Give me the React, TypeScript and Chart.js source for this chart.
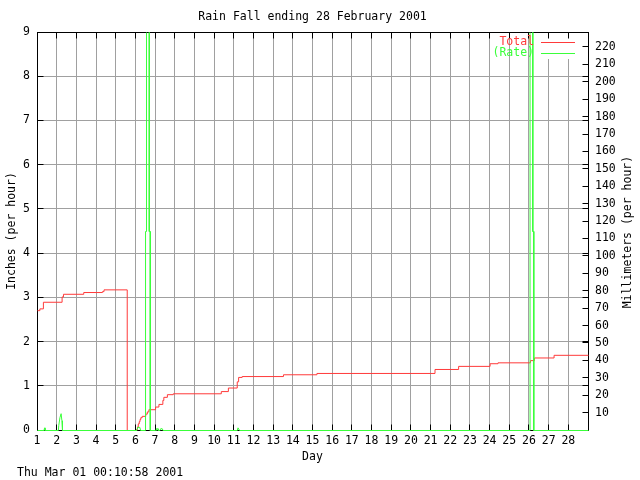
import React, { useEffect, useRef } from "react";
import { Chart, registerables } from "chart.js";

Chart.register(...registerables);

// ---- data ----
const titleText = "Rain Fall ending 28 February 2001";
const footerText = "Thu Mar 01 00:10:58 2001";
const leftTitle = "Inches (per hour)";
const rightTitle = "Millimeters (per hour)";
const xTitle = "Day";
const seriesNames = ["Total", "(Rate)"];

const dayTicks = [1, 2, 3, 4, 5, 6, 7, 8, 9, 10, 11, 12, 13, 14, 15, 16, 17, 18, 19, 20, 21, 22, 23, 24, 25, 26, 27, 28];
const inchTicks = [0, 1, 2, 3, 4, 5, 6, 7, 8, 9];
const mmTicks = [10, 20, 30, 40, 50, 60, 70, 80, 90, 100, 110, 120, 130, 140, 150, 160, 170, 180, 190, 200, 210, 220];

const totalDays = [1.0, 1.12, 1.3, 2.25, 2.32, 3.35, 4.3, 4.38, 5.56, 6.03, 6.08, 6.12, 6.17, 6.21, 6.25, 6.32, 6.5, 6.58, 6.66, 7.0, 7.17, 7.37, 7.42, 7.6, 7.9, 10.34, 10.7, 11.15, 11.22, 11.4, 13.5, 15.2, 21.2, 22.4, 24.0, 24.4, 26.05, 26.25, 27.25, 29.0];
const totalInches = [2.71, 2.75, 2.9, 3.02, 3.08, 3.12, 3.14, 3.18, 0, 0.02, 0.08, 0.15, 0.2, 0.25, 0.29, 0.32, 0.37, 0.42, 0.47, 0.53, 0.59, 0.68, 0.75, 0.81, 0.83, 0.88, 0.96, 1.1, 1.2, 1.22, 1.26, 1.29, 1.38, 1.45, 1.51, 1.53, 1.58, 1.64, 1.7, 1.7];

const rateDays = [1.0, 1.33, 1.36, 1.39, 2.06, 2.08, 2.14, 2.2, 2.24, 2.27, 6.05, 6.09, 6.2, 6.24, 6.49, 6.49, 6.54, 6.54, 6.68, 6.68, 6.73, 6.73, 7.0, 7.04, 7.11, 7.14, 7.22, 7.26, 7.34, 7.38, 11.15, 11.19, 11.27, 26.03, 26.03, 26.17, 26.17, 26.22, 26.22, 29.0];
const rateInches = [0, 0, 0.06, 0, 0, 0.11, 0.29, 0.38, 0.22, 0, 0, 0.07, 0.07, 0, 0, 4.5, 4.5, 12, 12, 4.5, 4.5, 0, 0, 0.04, 0.04, 0, 0, 0.04, 0.04, 0, 0, 0.06, 0, 0, 12, 12, 4.5, 4.5, 0, 0];

const MM_PER_INCH = 25.4;
const RED = "#ff3a3a";
const GREEN = "#3aff3a";
const GRID = "#a0a0a0";
const FONT_FAMILY = '"DejaVu Sans Mono", monospace';
const FONT_SIZE = 11.5;

const gnuPlugin = {
  id: "gnuStyle",
  beforeDatasetsDraw(chart: any) {
    const ctx = chart.ctx;
    const { left, right, top, bottom } = chart.chartArea;
    const L = Math.round(left) + 0.5;
    const R = Math.round(right) + 0.5;
    const T = Math.round(top) + 0.5;
    const B = Math.round(bottom) + 0.5;
    ctx.save();
    // key box area hides grid
    ctx.fillStyle = "#ffffff";
    ctx.fillRect(right - 52, top + 1, 51, 26);
    ctx.strokeStyle = "#000000";
    ctx.lineWidth = 1;
    ctx.strokeRect(L, T, R - L, B - T);
    ctx.beginPath();
    const xs = chart.scales.x;
    xs.ticks.forEach((t: any) => {
      const p = Math.round(xs.getPixelForValue(t.value) - 0.5) + 0.5;
      ctx.moveTo(p, B);
      ctx.lineTo(p, B - 6);
      ctx.moveTo(p, T);
      ctx.lineTo(p, T + 6);
    });
    const ys = chart.scales.y;
    ys.ticks.forEach((t: any) => {
      const p = Math.round(ys.getPixelForValue(t.value) - 0.5) + 0.5;
      ctx.moveTo(L, p);
      ctx.lineTo(L + 6, p);
      ctx.moveTo(R, p);
      ctx.lineTo(R - 6, p);
    });
    const y2 = chart.scales.y2;
    y2.ticks.forEach((t: any) => {
      const p = Math.round(y2.getPixelForValue(t.value) - 0.5) + 0.5;
      ctx.moveTo(R, p);
      ctx.lineTo(R - 6, p);
    });
    ctx.stroke();
    ctx.restore();
    // half-pixel shift so lines on whole pixels render crisp
    ctx.save();
    ctx.translate(0.5, 0.5);
  },
  afterDatasetsDraw(chart: any) {
    const ctx = chart.ctx;
    ctx.restore();
    const { right, top } = chart.chartArea;
    ctx.save();
    ctx.font = `${FONT_SIZE}px ${FONT_FAMILY}`;
    ctx.textAlign = "right";
    ctx.textBaseline = "middle";
    const colors = [RED, GREEN];
    seriesNames.forEach((name, i) => {
      const y = top + 10 + i * 11;
      ctx.fillStyle = colors[i];
      ctx.fillText(name, right - 54, y);
      ctx.strokeStyle = colors[i];
      ctx.lineWidth = 1;
      ctx.beginPath();
      ctx.moveTo(right - 47, Math.round(y) + 0.5);
      ctx.lineTo(right - 13, Math.round(y) + 0.5);
      ctx.stroke();
    });
    ctx.restore();
  },
  afterDraw(chart: any) {
    const ctx = chart.ctx;
    const { left, right, top, bottom } = chart.chartArea;
    const cx = (left + right) / 2;
    const cy = (top + bottom) / 2;
    ctx.save();
    ctx.font = `${FONT_SIZE}px ${FONT_FAMILY}`;
    ctx.fillStyle = "#000000";
    ctx.textAlign = "center";
    ctx.textBaseline = "alphabetic";
    ctx.fillText(titleText, cx, 20);
    ctx.textBaseline = "middle";
    ctx.fillText(xTitle, cx, 457);
    ctx.textAlign = "left";
    ctx.fillText(footerText, 17, 473);
    ctx.textAlign = "center";
    ctx.save();
    ctx.translate(12, cy);
    ctx.rotate(-Math.PI / 2);
    ctx.fillText(leftTitle, 0, 0);
    ctx.restore();
    ctx.save();
    ctx.translate(628, cy + 1);
    ctx.rotate(-Math.PI / 2);
    ctx.fillText(rightTitle, 0, 0);
    ctx.restore();
    ctx.restore();
  },
};

export default function App() {
  const ref = useRef<HTMLCanvasElement | null>(null);

  useEffect(() => {
    if (!ref.current) return;
    const tickFont = { family: FONT_FAMILY, size: FONT_SIZE };
    const clip = { left: 1, top: 0, right: 1, bottom: 2 };
    const chart = new Chart(ref.current, {
      type: "line",
      data: {
        datasets: [
          {
            label: seriesNames[0],
            data: totalDays.map((d, i) => ({ x: d, y: totalInches[i] })),
            borderColor: RED,
            borderWidth: 1,
            pointRadius: 0,
            stepped: true,
            fill: false,
            order: 1,
            clip,
            yAxisID: "y",
          },
          {
            label: seriesNames[1],
            data: rateDays.map((d, i) => ({ x: d, y: rateInches[i] })),
            borderColor: GREEN,
            borderWidth: 1,
            pointRadius: 0,
            tension: 0,
            fill: false,
            order: 0,
            clip,
            yAxisID: "y",
          },
        ],
      },
      options: {
        responsive: false,
        animation: false,
        events: [],
        layout: { padding: { top: 32, left: 0, right: 0, bottom: 0 } },
        plugins: {
          legend: { display: false },
          title: { display: false },
          tooltip: { enabled: false },
        },
        scales: {
          x: {
            type: "linear",
            position: "bottom",
            min: 1,
            max: 29,
            afterBuildTicks: (s: any) => {
              s.ticks = dayTicks.map((v) => ({ value: v }));
            },
            afterFit: (s: any) => {
              s.height = 50;
            },
            grid: { color: GRID, lineWidth: 1, drawTicks: false },
            border: { display: false },
            ticks: {
              font: tickFont,
              color: "#000",
              padding: 4,
              autoSkip: false,
              maxRotation: 0,
              callback: (v: any) => String(v),
            },
          },
          y: {
            type: "linear",
            position: "left",
            min: 0,
            max: 9,
            afterBuildTicks: (s: any) => {
              s.ticks = inchTicks.map((v) => ({ value: v }));
            },
            afterFit: (s: any) => {
              s.width = 37;
            },
            grid: { color: GRID, lineWidth: 1, drawTicks: false },
            border: { display: false },
            ticks: {
              font: tickFont,
              color: "#000",
              padding: 7,
              autoSkip: false,
              callback: (v: any) => String(v),
            },
          },
          y2: {
            type: "linear",
            position: "right",
            min: 0,
            max: 9 * MM_PER_INCH,
            afterBuildTicks: (s: any) => {
              s.ticks = mmTicks.map((v) => ({ value: v }));
            },
            afterFit: (s: any) => {
              s.width = 52;
            },
            grid: { display: false, drawTicks: false },
            border: { display: false },
            ticks: {
              font: tickFont,
              color: "#000",
              padding: 7,
              autoSkip: false,
              callback: (v: any) => String(v),
            },
          },
        },
      },
      plugins: [gnuPlugin],
    } as any);
    return () => chart.destroy();
  }, []);

  return (
    <div style={{ position: "absolute", left: 0, top: 0, width: 640, height: 480, background: "#fff" }}>
      <canvas ref={ref} width={640} height={480} style={{ display: "block", width: 640, height: 480 }} />
    </div>
  );
}
